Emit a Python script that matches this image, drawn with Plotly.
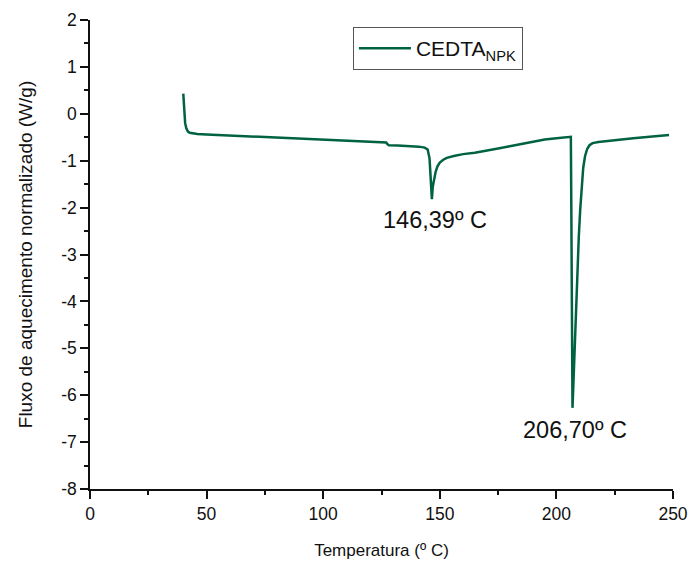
import plotly.graph_objects as go

# Temperature (ºC) and normalized heat flow (W/g)
temperatura = [40.0, 40.2, 40.5, 40.8, 41.3, 42.0, 42.8, 44.0, 46.0, 50.0,
               60.0, 70.0, 80.0, 90.0, 100.0, 110.0, 120.0, 127.0, 127.6, 128.2,
               132.0, 137.0, 141.0, 143.5, 144.8, 145.6, 146.1, 146.6, 147.0, 147.5,
               148.2, 149.0, 150.0, 151.5, 153.0, 156.0, 160.0, 165.0, 170.0, 175.0,
               180.0, 185.0, 190.0, 195.0, 200.0, 203.0, 205.5, 206.2, 206.4, 206.6,
               206.9, 207.3, 207.8, 208.4, 209.0, 209.6, 210.2, 210.8, 211.5, 212.3,
               213.2, 214.2, 215.5, 218.0, 222.0, 227.0, 233.0, 240.0, 248.3]
fluxo = [0.43, 0.20, -0.05, -0.20, -0.31, -0.38, -0.405, -0.42, -0.43, -0.44,
         -0.462, -0.484, -0.506, -0.528, -0.55, -0.572, -0.594, -0.61, -0.65, -0.67,
         -0.675, -0.685, -0.70, -0.72, -0.76, -0.95, -1.35, -1.82, -1.55, -1.38,
         -1.24, -1.12, -1.04, -0.98, -0.94, -0.90, -0.86, -0.83, -0.79, -0.74,
         -0.69, -0.64, -0.59, -0.55, -0.52, -0.505, -0.49, -0.49, -2.0, -4.0,
         -6.27, -5.75, -5.0, -3.97, -3.2, -2.62, -2.05, -1.55, -1.15, -0.90,
         -0.75, -0.67, -0.625, -0.60, -0.575, -0.55, -0.52, -0.49, -0.45]

serie_nome = "CEDTA<sub>NPK</sub>"
picos_t = [147.9, 208.0]
picos_y = [-2.26, -6.75]
picos_texto = ["146,39º C", "206,70º C"]

x_ticks = [0, 50, 100, 150, 200, 250]
x_labels = ["0", "50", "100", "150", "200", "250"]
y_ticks = [2, 1, 0, -1, -2, -3, -4, -5, -6, -7, -8]
y_labels = ["2", "1", "0", "-1", "-2", "-3", "-4", "-5", "-6", "-7", "-8"]

FONT = "Arial, 'Liberation Sans', sans-serif"
COR = "#006340"

fig = go.Figure()
fig.add_trace(go.Scatter(
    x=temperatura, y=fluxo, mode="lines", name=serie_nome,
    line=dict(color=COR, width=2.5),
))

for t, y, txt in zip(picos_t, picos_y, picos_texto):
    fig.add_annotation(x=t, y=y, text=txt, showarrow=False,
                       font=dict(family=FONT, size=23.5, color="#111"),
                       xanchor="center", yanchor="middle")

axis_common = dict(
    showline=True, linecolor="#111", linewidth=1.5,
    ticks="outside", ticklen=8, tickwidth=1.5, tickcolor="#111",
    showgrid=False, zeroline=False,
    tickfont=dict(family=FONT, size=17.5, color="#111"),
    automargin=False,
)

fig.update_xaxes(
    range=[0, 250], tickvals=x_ticks, ticktext=x_labels,
    minor=dict(ticks="outside", ticklen=4, tickwidth=1.5, tickcolor="#111", dtick=25, tick0=0, showgrid=False),
    title=dict(text="Temperatura (º C)", font=dict(family=FONT, size=17, color="#111"), standoff=21),
    **axis_common,
)
fig.update_yaxes(
    range=[-8, 2], tickvals=y_ticks, ticktext=y_labels,
    minor=dict(ticks="outside", ticklen=4, tickwidth=1.5, tickcolor="#111", dtick=0.5, tick0=0, showgrid=False),
    title=dict(text="Fluxo de aquecimento normalizado (W/g)", font=dict(family=FONT, size=19, color="#111"), standoff=24),
    **axis_common,
)

fig.update_layout(
    width=691, height=563,
    margin=dict(l=90, r=18, t=20, b=74),
    paper_bgcolor="white", plot_bgcolor="white",
    showlegend=True,
    legend=dict(
        x=0.451, y=0.985, xanchor="left", yanchor="top",
        bordercolor="#555", borderwidth=1, bgcolor="white",
        font=dict(family=FONT, size=21, color="#111"),
        itemwidth=52,
    ),
)

fig.write_html("out.html")
